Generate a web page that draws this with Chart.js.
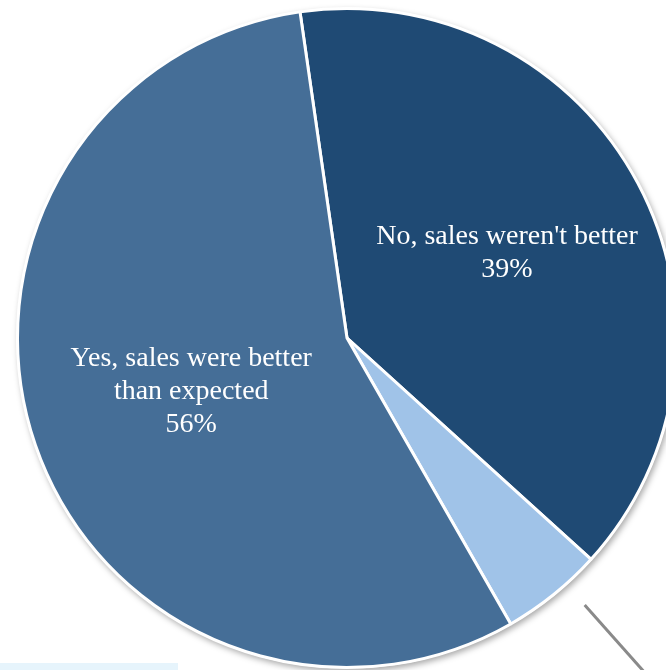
<!DOCTYPE html>
<html>
<head>
<meta charset="utf-8">
<script src="https://cdn.jsdelivr.net/npm/chart.js@4"></script>
<style>
  html, body { margin: 0; padding: 0; background: #fff; overflow: hidden; }
  body { width: 666px; height: 670px; position: relative; }
  #wrap { position: absolute; left: -3px; top: -12px; width: 700px; height: 700px; }
  #strip { position: absolute; left: 0; top: 663px; width: 178px; height: 7px; background: #e6f4fc; }
</style>
</head>
<body>
<div id="wrap"><canvas id="pieChart" width="700" height="700"></canvas></div>
<div id="strip"></div>
<script>
const categories = ["No, sales weren't better", "Don't know", "Yes, sales were better\nthan expected"];
const shares = [39, 5, 56];
const sliceColors = ["#1f4a74", "#a0c3e8", "#456e97"];

// white disc with a soft shadow behind the slices
const shadowPlugin = {
  id: "pieShadow",
  beforeDatasetsDraw(chart) {
    const arc = chart.getDatasetMeta(0).data[0];
    if (!arc) return;
    const ctx = chart.ctx;
    ctx.save();
    ctx.shadowColor = "rgba(0,0,0,0.35)";
    ctx.shadowBlur = 6;
    ctx.shadowOffsetX = 2;
    ctx.shadowOffsetY = 3;
    ctx.fillStyle = "#fff";
    ctx.beginPath();
    ctx.arc(arc.x, arc.y, arc.outerRadius + 1, 0, Math.PI * 2);
    ctx.fill();
    ctx.restore();
  }
};

// labels inside big slices, leader line for the small one
const labelPlugin = {
  id: "sliceLabels",
  afterDatasetsDraw(chart) {
    const ctx = chart.ctx;
    const meta = chart.getDatasetMeta(0);
    meta.data.forEach((arc, i) => {
      const mid = (arc.startAngle + arc.endAngle) / 2;
      const r = arc.outerRadius;
      if (shares[i] < 10) {
        const a = mid - 0.05;
        ctx.save();
        ctx.strokeStyle = "#8a8a8a";
        ctx.lineWidth = 3;
        ctx.beginPath();
        ctx.moveTo(arc.x + Math.cos(a) * r * 1.085, arc.y + Math.sin(a) * r * 1.085);
        ctx.lineTo(arc.x + Math.cos(a) * r * 1.36, arc.y + Math.sin(a) * r * 1.36);
        ctx.stroke();
        ctx.restore();
        return;
      }
      const f = i === 0 ? 0.55 : 0.5;
      const cx = arc.x + Math.cos(mid) * r * f;
      const cy = arc.y + Math.sin(mid) * r * f;
      const lines = categories[i].split("\n").concat([shares[i] + "%"]);
      ctx.save();
      ctx.fillStyle = "#fff";
      ctx.font = "28px 'Liberation Serif', 'DejaVu Serif', serif";
      ctx.textAlign = "center";
      ctx.textBaseline = "middle";
      const lh = 33;
      lines.forEach((t, k) => {
        ctx.fillText(t, cx, cy + (k - (lines.length - 1) / 2) * lh);
      });
      ctx.restore();
    });
  }
};

const canvas = document.getElementById("pieChart");

if (canvas && window.Chart) {
  new Chart(canvas.getContext("2d"), {
    type: "pie",
    data: {
      labels: categories,
      datasets: [
        {
          data: shares,
          backgroundColor: sliceColors,
          borderColor: "#ffffff",
          borderWidth: 3
        }
      ]
    },
    options: {
      responsive: false,
      animation: false,
      rotation: -8.2,
      layout: { padding: 19 },
      plugins: {
        legend: { display: false },
        tooltip: { enabled: false }
      }
    },
    plugins: [shadowPlugin, labelPlugin]
  });
}
</script>
</body>
</html>
